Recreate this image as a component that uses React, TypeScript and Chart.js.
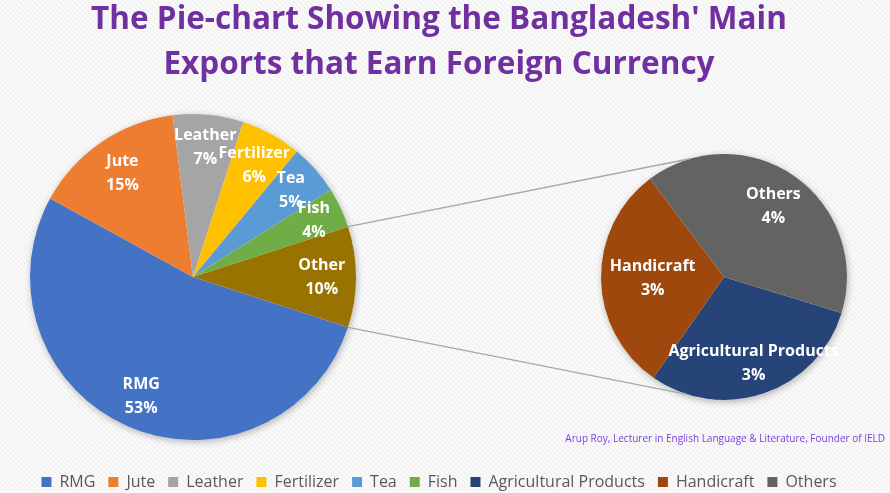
import React, { useEffect, useRef } from "react";
import { Chart, registerables } from "chart.js";

Chart.register(...registerables);

// ---- data ----
const mainLabels = ["RMG", "Jute", "Leather", "Fertilizer", "Tea", "Fish", "Other"];
const mainValues = [53, 15, 7, 6, 5, 4, 10];
const subLabels = ["Agricultural Products", "Handicraft", "Others"];
const subValues = [3, 3, 4];
const COMPOSITE = "Other"; // slice of the main pie that is broken out into the small pie
const titleLines = ["The Pie-chart Showing the Bangladesh' Main", "Exports that Earn Foreign Currency"];
const creditText = "Arup Roy, Lecturer in English Language & Literature, Founder of IELD";

// ---- styling ----
const mainColors = ["#4472C4", "#ED7D31", "#A5A5A5", "#FFC000", "#5B9BD5", "#70AD47", "#997300"];
const subColors = ["#264478", "#9E480E", "#636363"];
const W = 890;
const H = 493;
const MAIN_BOX = { left: 30, top: 114, size: 326 };
const SUB_BOX = { left: 601, top: 154, size: 246 };
const MAIN_LABEL_RADIUS = [0.8, 0.77, 0.8, 0.78, 0.8, 0.82, 0.79];
const SUB_LABEL_RADIUS = [0.74, 0.58, 0.7];
const LINK_ANGLES = [-106, 107]; // where the connector lines meet the small pie (deg)
const LABEL_FONT = "bold 16px 'Open Sans'";
const FONT = "'Open Sans'";

const rad = (d: number) => (d * Math.PI) / 180;

// Places the pie inside a fixed square, independent of title/legend boxes.
const pinArea = (box: { left: number; top: number; size: number }) => ({
  id: "pinArea",
  afterLayout(chart: any) {
    chart.chartArea = {
      left: box.left,
      top: box.top,
      right: box.left + box.size,
      bottom: box.top + box.size,
      width: box.size,
      height: box.size,
    };
  },
});

const stripedBackground = {
  id: "stripedBackground",
  beforeDraw(chart: any) {
    const ctx = chart.ctx;
    ctx.save();
    ctx.fillStyle = "#fbfbfb";
    ctx.fillRect(0, 0, chart.width, chart.height);
    ctx.strokeStyle = "rgba(0,0,0,0.035)";
    ctx.lineWidth = 2;
    ctx.beginPath();
    for (let k = -chart.height; k < chart.width; k += 5) {
      ctx.moveTo(k, 0);
      ctx.lineTo(k + chart.height, chart.height);
    }
    ctx.stroke();
    ctx.restore();
  },
};

const pieShadow = {
  id: "pieShadow",
  beforeDatasetsDraw(chart: any) {
    const arc = chart.getDatasetMeta(0).data[0];
    if (!arc) return;
    const { x, y, outerRadius } = arc.getProps(["x", "y", "outerRadius"], true);
    const ctx = chart.ctx;
    ctx.save();
    ctx.shadowColor = "rgba(0,0,0,0.28)";
    ctx.shadowBlur = 7;
    ctx.shadowOffsetX = 1;
    ctx.shadowOffsetY = 2;
    ctx.fillStyle = "#ffffff";
    ctx.beginPath();
    ctx.arc(x, y, outerRadius, 0, Math.PI * 2);
    ctx.fill();
    ctx.restore();
  },
};

const sliceLabels = (fracs: number[]) => ({
  id: "sliceLabels",
  afterDatasetsDraw(chart: any) {
    const ctx = chart.ctx;
    const meta = chart.getDatasetMeta(0);
    const values = chart.data.datasets[0].data;
    ctx.save();
    ctx.font = LABEL_FONT;
    ctx.fillStyle = "#ffffff";
    ctx.textAlign = "center";
    ctx.textBaseline = "middle";
    meta.data.forEach((el: any, i: number) => {
      const { x, y, startAngle, endAngle, outerRadius } = el.getProps(
        ["x", "y", "startAngle", "endAngle", "outerRadius"],
        true
      );
      const mid = (startAngle + endAngle) / 2;
      const r = outerRadius * fracs[i];
      const cx = x + Math.cos(mid) * r;
      const cy = y + Math.sin(mid) * r;
      ctx.fillText(chart.data.labels[i], cx, cy - 12);
      ctx.fillText(values[i] + "%", cx, cy + 12);
    });
    ctx.restore();
  },
});

const creditLine = {
  id: "creditLine",
  afterDraw(chart: any) {
    const ctx = chart.ctx;
    ctx.save();
    ctx.font = "10px " + FONT;
    ctx.fillStyle = "#7b3fe0";
    ctx.textAlign = "right";
    ctx.textBaseline = "middle";
    ctx.fillText(creditText, 885, 439);
    ctx.restore();
  },
};

const legendLabels = [...mainLabels.filter((l) => l !== COMPOSITE), ...subLabels];
const legendColors = [
  ...mainColors.filter((_, i) => mainLabels[i] !== COMPOSITE),
  ...subColors,
];

export default function App() {
  const mainRef = useRef<HTMLCanvasElement | null>(null);
  const subRef = useRef<HTMLCanvasElement | null>(null);

  useEffect(() => {
    document.body.style.margin = "0";
    if (!mainRef.current || !subRef.current) return;

    const mainChart = new Chart(mainRef.current, {
      type: "pie",
      data: {
        labels: mainLabels,
        datasets: [
          {
            data: mainValues,
            backgroundColor: mainColors,
            borderWidth: 0,
            hoverOffset: 0,
            clip: false,
          } as any,
        ],
      },
      options: {
        responsive: false,
        animation: false,
        devicePixelRatio: 1,
        events: [],
        rotation: 108,
        layout: { padding: { left: 0, right: 12, top: 0, bottom: -7 } },
        plugins: {
          title: {
            display: true,
            text: titleLines,
            color: "#7030A0",
            font: { family: FONT, size: 31.5, weight: "bold", lineHeight: 45 / 31.5 },
            padding: { top: -2, bottom: 0 },
          },
          legend: {
            display: true,
            position: "bottom",
            labels: {
              boxWidth: 10,
              boxHeight: 10,
              padding: 13,
              color: "#595959",
              font: { family: FONT, size: 16 },
              generateLabels: () =>
                legendLabels.map((text, i) => ({
                  text,
                  fillStyle: legendColors[i],
                  strokeStyle: legendColors[i],
                  lineWidth: 0,
                  hidden: false,
                  index: i,
                  fontColor: "#595959",
                })),
            },
          },
          tooltip: { enabled: false },
        },
      } as any,
      plugins: [stripedBackground, pinArea(MAIN_BOX), pieShadow, sliceLabels(MAIN_LABEL_RADIUS), creditLine],
    });

    const connectors = {
      id: "connectors",
      afterDatasetsDraw(chart: any) {
        const idx = mainLabels.indexOf(COMPOSITE);
        const mArc = mainChart.getDatasetMeta(0).data[idx] as any;
        const sArc = chart.getDatasetMeta(0).data[0];
        if (!mArc || !sArc) return;
        const m = mArc.getProps(["x", "y", "startAngle", "endAngle", "outerRadius"], true);
        const s = sArc.getProps(["x", "y", "outerRadius"], true);
        const ctx = chart.ctx;
        ctx.save();
        ctx.strokeStyle = "#a8a8a8";
        ctx.lineWidth = 1.5;
        ctx.beginPath();
        [m.startAngle, m.endAngle].forEach((a: number, i: number) => {
          ctx.moveTo(m.x + Math.cos(a) * m.outerRadius, m.y + Math.sin(a) * m.outerRadius);
          const b = rad(LINK_ANGLES[i]);
          ctx.lineTo(s.x + Math.cos(b) * s.outerRadius, s.y + Math.sin(b) * s.outerRadius);
        });
        ctx.stroke();
        ctx.restore();
      },
    };

    const subChart = new Chart(subRef.current, {
      type: "pie",
      data: {
        labels: subLabels,
        datasets: [
          {
            data: subValues,
            backgroundColor: subColors,
            borderWidth: 0,
            hoverOffset: 0,
            clip: false,
          } as any,
        ],
      },
      options: {
        responsive: false,
        animation: false,
        devicePixelRatio: 1,
        events: [],
        rotation: 107,
        plugins: {
          title: { display: false },
          legend: { display: false },
          tooltip: { enabled: false },
        },
      } as any,
      plugins: [pinArea(SUB_BOX), pieShadow, sliceLabels(SUB_LABEL_RADIUS), connectors],
    });

    return () => {
      subChart.destroy();
      mainChart.destroy();
    };
  }, []);

  return (
    <div style={{ position: "relative", width: W, height: H, overflow: "hidden" }}>
      <canvas ref={mainRef} width={W} height={H} style={{ position: "absolute", left: 0, top: 0 }} />
      <canvas
        ref={subRef}
        width={W}
        height={H}
        style={{ position: "absolute", left: 0, top: 0, pointerEvents: "none" }}
      />
    </div>
  );
}
